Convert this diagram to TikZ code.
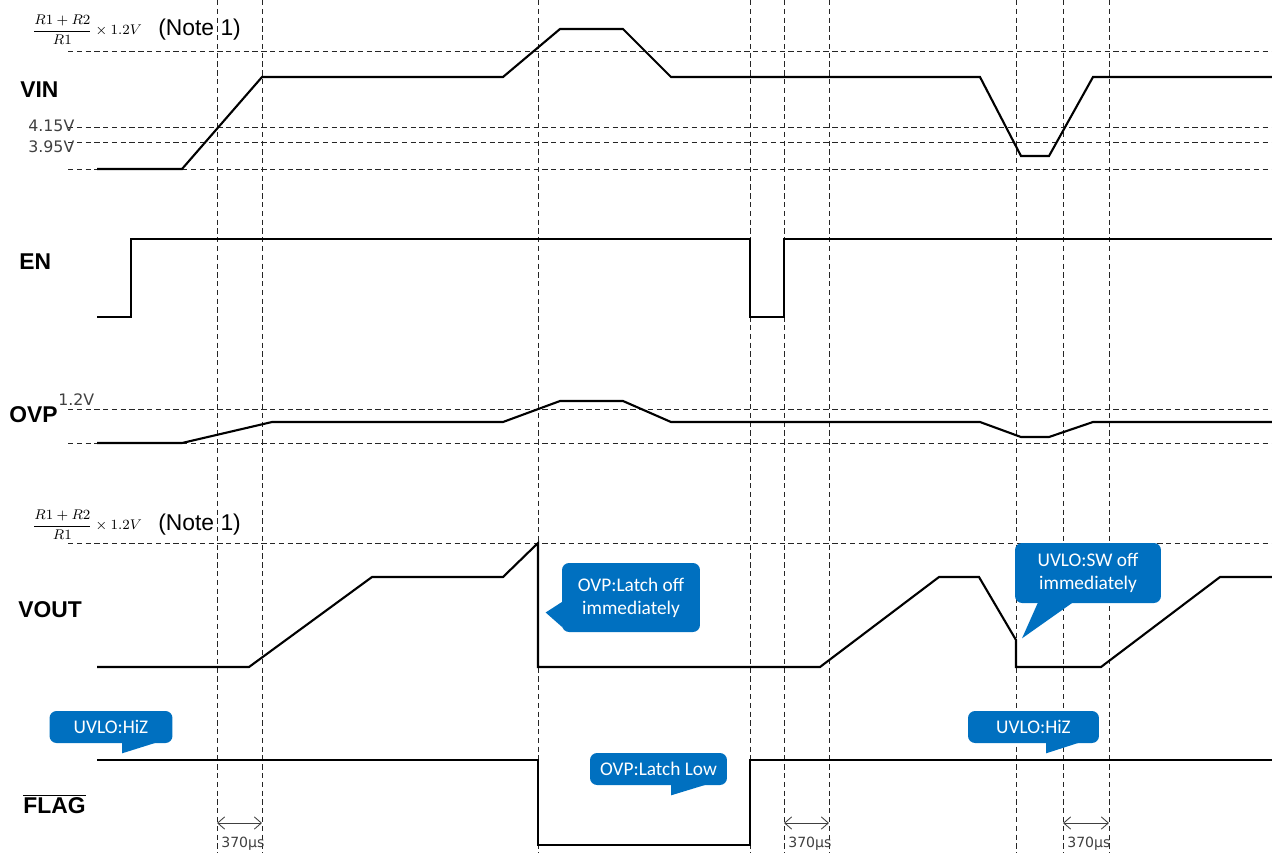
\documentclass[tikz,border=0pt]{standalone}
\usepackage{amsmath}
\usepackage{fontspec}
\setmainfont{Liberation Sans}
\newfontfamily\levelfont{DejaVu Sans}
\newfontfamily\calloutfont{Carlito}
\usepackage{tikz}
\usetikzlibrary{arrows.meta}
\definecolor{calloutblue}{HTML}{0070C0}
\definecolor{levelgray}{HTML}{404040}
\tikzstyle{signal} = [line width=1.2pt, black, line join=miter]
\tikzstyle{guide} = [line width=0.5pt, black!85, dash pattern=on 3pt off 2pt]
\tikzstyle{siglabel} = [font=\fontsize{13}{15}\selectfont\bfseries, anchor=west, inner sep=0]
\tikzstyle{level} = [font=\levelfont\fontsize{9}{10}\selectfont, text=levelgray, anchor=base west, inner sep=0]
\tikzstyle{note} = [font=\fontsize{13}{15}\selectfont, anchor=west, inner sep=0]
\tikzstyle{callout} = [rectangle, rounded corners=4pt, fill=calloutblue, text=white, font=\calloutfont\fontsize{11}{13}\selectfont, align=center, inner sep=0]
\tikzstyle{dimarrow} = [{Straight Barb[length=4pt,width=7pt]}-{Straight Barb[length=4pt,width=7pt]}, line width=0.5pt, levelgray]

\begin{document}
\begin{tikzpicture}[x=0.02cm, y=-0.02cm]
    \useasboundingbox (0,0) rectangle (1272,853);

    % grid
    \foreach \t in {217,262,538,750,784,829,1016,1063,1109}
        \draw [guide] (\t,0) -- (\t,853);
    \foreach \v in {51,127,142,169,409,443,543}
        \draw [guide] (68,\v) -- (1272,\v);

    % names of the signals
    \node (vin) [siglabel] at (20,90) {VIN};
    \node (en) [siglabel] at (19,262) {EN};
    \node (ovp) [siglabel] at (9,415) {OVP};
    \node (vout) [siglabel] at (18,610) {VOUT};
    \node (flag) [siglabel] at (23,804) {$\overline{\mbox{FLAG}}$};

    % levels
    \node (fracA) [anchor=west, inner sep=0] at (32,30) {\fontsize{8.5}{10}\selectfont$\displaystyle\frac{R1+R2}{R1}\times 1.2V$};
    \node (noteA) [note] at (158,30) {(Note 1)};
    \node (fracB) [anchor=west, inner sep=0] at (32,525) {\fontsize{8.5}{10}\selectfont$\displaystyle\frac{R1+R2}{R1}\times 1.2V$};
    \node (noteB) [note] at (158,525) {(Note 1)};
    \node (lvlHigh) [level] at (28,131) {4.15V};
    \node (lvlLow) [level] at (28,152) {3.95V};
    \node (lvlRef) [level] at (58,405) {1.2V};

    % waveforms
    \draw [signal] (97,169) -- (182,169) -- (262,77) -- (503,77) -- (560,29) -- (623,29)
        -- (671,77) -- (980,77) -- (1021,156) -- (1049,156) -- (1093,77) -- (1272,77);
    \draw [signal] (97,317) -- (131,317) -- (131,239) -- (750,239) -- (750,317)
        -- (784,317) -- (784,239) -- (1272,239);
    \draw [signal] (97,443) -- (182,443) -- (272,422) -- (503,422) -- (560,401) -- (623,401)
        -- (671,422) -- (980,422) -- (1021,437) -- (1049,437) -- (1093,422) -- (1272,422);
    \draw [signal] (97,667) -- (249,667) -- (372,577) -- (503,577) -- (538,543) -- (538,667)
        -- (820,667) -- (939,577) -- (979,577) -- (1016,640) -- (1016,667) -- (1101,667)
        -- (1220,577) -- (1272,577);
    \draw [signal] (97,760) -- (538,760) -- (538,845) -- (750,845) -- (750,760) -- (1272,760);

    % callouts
    \node (hizA) [callout, minimum width=2.46cm, minimum height=0.64cm] at (111,727) {UVLO:HiZ};
    \fill [calloutblue] (hizA.south) ++(11,-1) -- ++(0,11) -- ++(35,-11) -- cycle;
    \node (hizB) [callout, minimum width=2.62cm, minimum height=0.64cm] at (1033.5,727) {UVLO:HiZ};
    \fill [calloutblue] (hizB.south) ++(12.5,-1) -- ++(0,11) -- ++(34,-11) -- cycle;
    \node (latchLow) [callout, minimum width=2.74cm, minimum height=0.64cm] at (658.5,769) {OVP:Latch Low};
    \fill [calloutblue] (latchLow.south) ++(12.5,-1) -- ++(0,11) -- ++(36,-11) -- cycle;
    \node (latchOff) [callout, minimum width=2.76cm, minimum height=1.38cm] at (631,597.5) {OVP:Latch off\\immediately};
    \fill [calloutblue] (latchOff.west) ++(1,4) -- ++(-17,11) -- ++(17,15) -- cycle;
    \node (swOff) [callout, minimum width=2.92cm, minimum height=1.2cm] at (1088,573) {UVLO:SW off\\immediately};
    \fill [calloutblue] (swOff.south) ++(-50,-1) -- ++(-16,36) -- ++(51,-36) -- cycle;

    % delays
    \foreach \a/\b/\n in {217/262/a, 784/829/b, 1063/1109/c} {
        \coordinate (d\n1) at (\a,823);
        \coordinate (d\n2) at (\b,823);
        \draw [dimarrow] (d\n1) -- (d\n2);
        \node (t\n) [level, font=\levelfont\fontsize{8}{9}\selectfont] at (\a+4,847) {370µs};
    }
\end{tikzpicture}
\end{document}
